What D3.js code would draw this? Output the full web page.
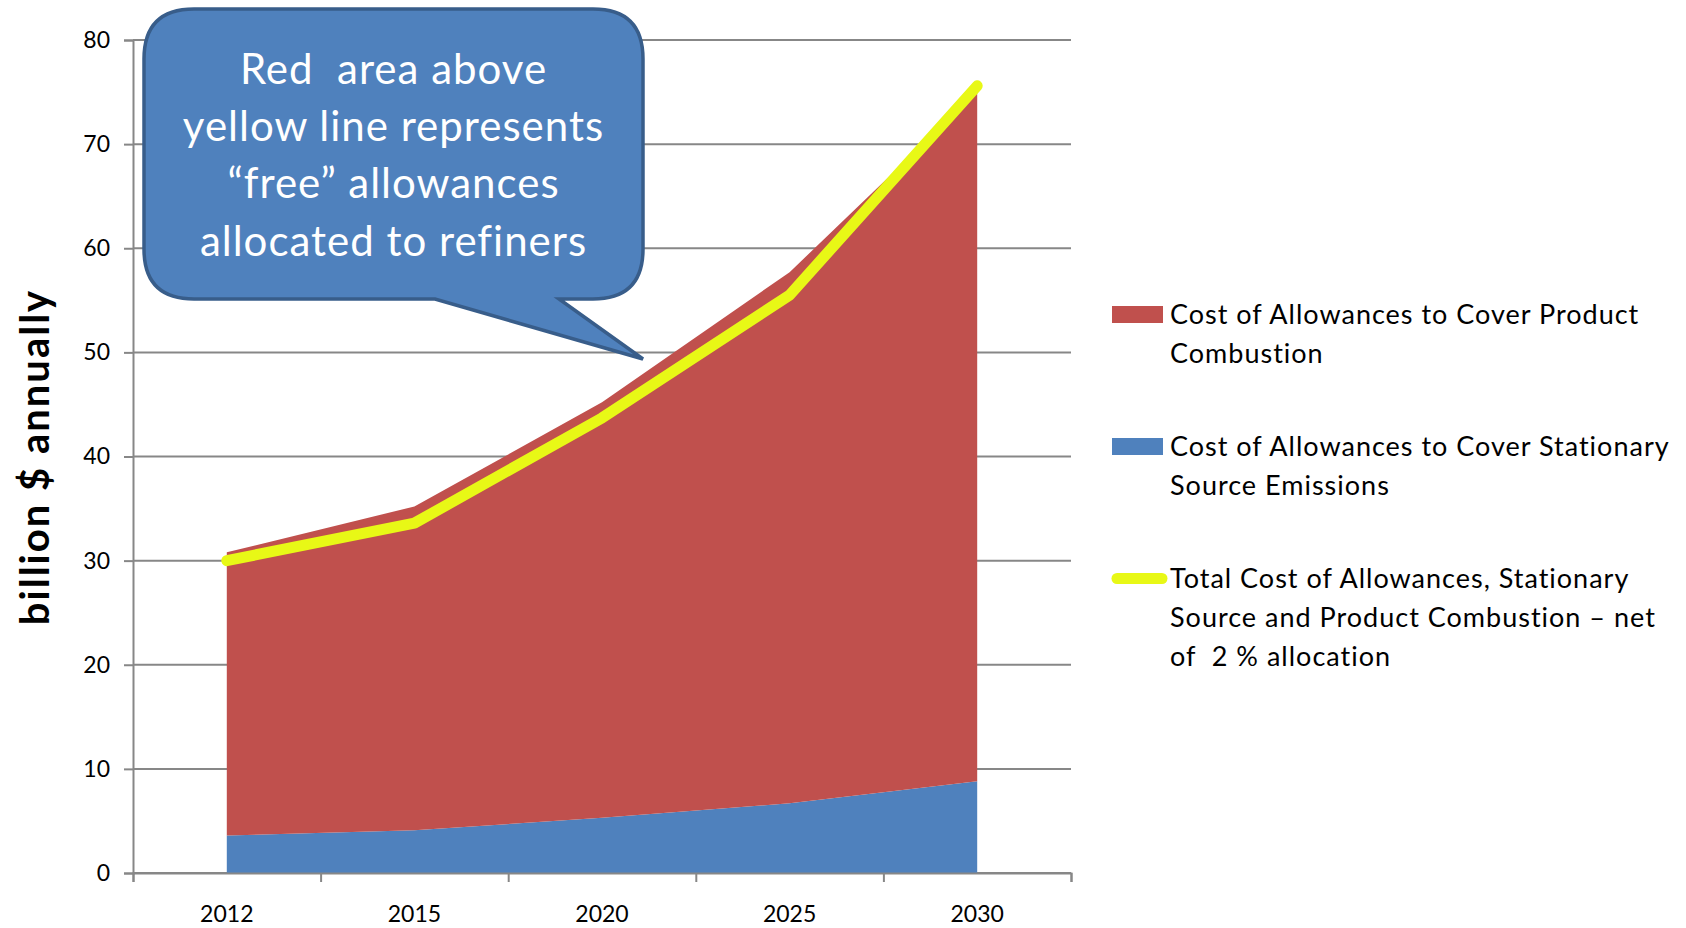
<!DOCTYPE html>
<html><head><meta charset="utf-8">
<script src="https://cdn.jsdelivr.net/npm/d3@7"></script>
<style>
html,body{margin:0;padding:0;background:#fff;}
svg text{font-family:Lato,"Open Sans",sans-serif;}
</style></head>
<body>
<svg id="chart" width="1686" height="928"></svg>
<script>
const years = ["2012","2015","2020","2025","2030"];
const stationary = [3.6, 4.1, 5.3, 6.7, 8.8];
const productCombustion = [27.2, 31.1, 39.9, 51.0, 66.2];
const totalNet = [30.0, 33.6, 43.7, 55.5, 75.6];
const yTicks = [0,10,20,30,40,50,60,70,80];
const legendLabels = [
  ["Cost of Allowances to Cover Product","Combustion"],
  ["Cost of Allowances to Cover Stationary","Source Emissions"],
  ["Total Cost of Allowances, Stationary","Source and Product Combustion \u2013 net","of  2 % allocation"]
];
const calloutLines = ["Red  area above","yellow line represents","\u201cfree\u201d allowances","allocated to refiners"];
const yTitle = "billion $ annually";

const RED="#C0504D", BLUE="#4F81BD", YEL="#E8F816", GRID="#878787";
const svg = d3.select("#chart");
const L=133, R=1071, T=40, B=873;
const xb = d3.scaleBand().domain(years).range([L,R]).paddingInner(0).paddingOuter(0);
const xc = d => xb(d)+xb.bandwidth()/2;
const y = d3.scaleLinear().domain([0,80]).range([B,T]);

// gridlines
svg.append("g").selectAll("line").data(yTicks).join("line")
  .attr("x1",L).attr("x2",R).attr("y1",d=>y(d)).attr("y2",d=>y(d))
  .attr("stroke",GRID).attr("stroke-width",2);

// stacked data
const rows = years.map((yr,i)=>({year:yr, stationary:stationary[i], product:productCombustion[i]}));
const stack = d3.stack().keys(["stationary","product"])(rows);
const area = d3.area().x(d=>xc(d.data.year)).y0(d=>y(d[0])).y1(d=>y(d[1]));
svg.append("g").selectAll("path").data(stack).join("path")
  .attr("d",area).attr("fill",(d,i)=>i===0?BLUE:RED);

// yellow line
const line = d3.line().x((d,i)=>xc(years[i])).y(d=>y(d));
svg.append("path").attr("d",line(totalNet)).attr("fill","none")
  .attr("stroke",YEL).attr("stroke-width",11).attr("stroke-linecap","round").attr("stroke-linejoin","round");

// y axis
const ya = svg.append("g").attr("transform",`translate(${L},0)`)
  .call(d3.axisLeft(y).tickValues(yTicks).tickSize(9).tickPadding(14));
ya.select(".domain").attr("stroke",GRID).attr("stroke-width",2);
ya.selectAll(".tick line").attr("stroke",GRID).attr("stroke-width",2);
ya.selectAll(".tick text").attr("font-size",23).attr("fill","#000").style("font-family","Lato");

// x axis: ticks at band boundaries
const edges = d3.scaleLinear().domain([0,years.length]).range([L,R]);
const xa = svg.append("g").attr("transform",`translate(0,${B})`)
  .call(d3.axisBottom(edges).tickValues(d3.range(years.length+1)).tickSize(9).tickFormat(""));
xa.select(".domain").attr("stroke",GRID).attr("stroke-width",2);
xa.selectAll(".tick line").attr("stroke",GRID).attr("stroke-width",2);
const xl = svg.append("g").attr("transform",`translate(0,${B})`)
  .call(d3.axisBottom(xb).tickSize(0).tickPadding(33));
xl.select(".domain").remove();
xl.selectAll(".tick text").attr("font-size",23).attr("fill","#000").style("font-family","Lato");

// y title
svg.append("text").attr("transform","translate(35,457) rotate(-90)")
  .attr("text-anchor","middle").attr("dy","0.35em")
  .attr("font-size",40).attr("font-weight","bold").attr("letter-spacing",2).attr("fill","#000").text(yTitle);

// callout
const x0=144,x1=643,y0=9,y1=299,r=50, tl=435, tr=559, tipx=643, tipy=359;
const p = d3.path();
p.moveTo(x0+r,y0); p.lineTo(x1-r,y0); p.quadraticCurveTo(x1,y0,x1,y0+r);
p.lineTo(x1,y1-r); p.quadraticCurveTo(x1,y1,x1-r,y1);
p.lineTo(tr,y1); p.lineTo(tipx,tipy); p.lineTo(tl,y1);
p.lineTo(x0+r,y1); p.quadraticCurveTo(x0,y1,x0,y1-r);
p.lineTo(x0,y0+r); p.quadraticCurveTo(x0,y0,x0+r,y0); p.closePath();
svg.append("path").attr("d",p.toString()).attr("fill",BLUE).attr("stroke","#385D8A").attr("stroke-width",3.5);
svg.append("g").selectAll("text").data(calloutLines).join("text")
  .attr("x",(x0+x1)/2).attr("y",(d,i)=>69+i*57.3).attr("dy","0.35em")
  .attr("text-anchor","middle").attr("font-size",42).attr("letter-spacing",1).attr("fill","#fff")
  .style("white-space","pre").text(d=>d);

// legend
const lg = svg.append("g");
const lgY = [306, 438, 570];
const lgLineH = 38.8;
legendLabels.forEach((lines,i)=>{
  const g = lg.append("g").attr("transform",`translate(0,${lgY[i]})`);
  if(i<2){
    g.append("rect").attr("x",1112).attr("y",0).attr("width",51).attr("height",17).attr("fill",i===0?RED:BLUE);
  } else {
    g.append("line").attr("x1",1117).attr("x2",1162).attr("y1",8.5).attr("y2",8.5)
      .attr("stroke",YEL).attr("stroke-width",11).attr("stroke-linecap","round");
  }
  g.selectAll("text").data(lines).join("text")
    .attr("x",1170).attr("y",(d,j)=>9+j*lgLineH).attr("dy","0.35em")
    .attr("font-size",27).attr("letter-spacing",1).attr("fill","#000").style("white-space","pre").text(d=>d);
});
</script>
</body></html>
